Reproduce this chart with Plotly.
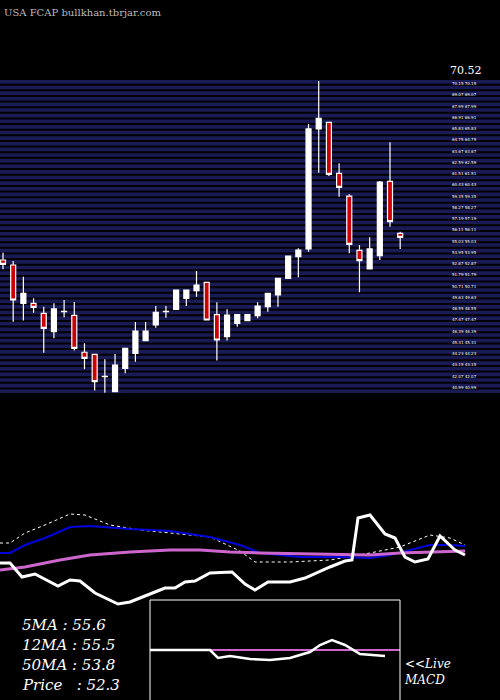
import numpy as np
import plotly.graph_objects as go

opens  = [53.22,52.74,49.06,49.06,48.10,46.34,48.26,47.91,44.36,44.16,42.02,40.58,42.82,44.26,45.48,46.98,48.26,48.48,49.54,50.28,
          51.08,47.98,45.86,47.14,47.40,47.88,48.74,49.86,51.46,53.54,54.28,65.80,66.44,61.54,59.36,54.15,52.36,53.64,60.77,55.78]
closes = [52.80,49.38,50.02,48.68,46.66,48.52,48.30,44.74,43.78,41.54,42.06,43.14,44.74,46.40,46.40,48.20,48.30,50.34,50.34,50.82,
          47.46,45.54,47.94,47.98,47.98,48.80,50.02,51.46,53.60,54.18,65.80,66.82,61.44,60.20,54.72,53.16,54.28,60.70,56.90,55.40]
highs  = [53.92,53.12,51.62,49.54,48.74,49.06,49.38,49.19,45.22,44.16,43.68,44.20,44.74,47.27,47.27,48.80,48.80,50.34,50.34,52.16,
          51.08,49.16,48.48,47.98,47.98,49.16,50.02,51.46,53.60,54.34,66.28,70.40,66.44,62.50,59.52,54.66,55.40,60.80,64.52,55.94]
lows   = [52.32,47.30,47.40,48.16,44.32,45.70,47.72,44.52,42.72,40.68,40.48,40.58,42.34,43.46,45.48,46.72,47.68,48.48,48.80,49.70,
          47.46,43.56,45.48,46.82,47.40,47.62,48.26,48.74,51.46,51.56,54.02,61.60,61.28,59.30,53.86,50.12,52.36,53.22,56.42,54.28]
idx = list(range(len(opens)))

# indicator panel readings (x in chart px, y in panel units, higher = lower on screen)
ma5_x = [0,10,25,45,70,85,110,140,170,210,240,255,290,330,370,400,430,450,465]
ma5_y = [543,543,533,525,514,515,525,530,533,537,551,562,562,560,553,547,535,538,545]
ma12_x = [0,10,25,45,70,90,130,170,210,240,260,300,340,370,390,410,430,450,465]
ma12_y = [553,553,545,538,527,526,529,531,537,545,553,557,557,558,555,550,545,545,546]
ma50_x = [0,25,60,90,130,170,200,230,260,300,340,370,400,430,465]
ma50_y = [570,567,560,555,552,550,550,552,553,554,555,555,553,552,551]
px_x = [0,10,22,35,58,70,80,95,118,130,150,165,175,185,195,210,232,245,255,268,290,305,330,345,352,358,370,385,395,405,415,428,440,455,465]
px_y = [563,563,577,574,586,580,581,593,604,602,594,588,588,582,581,573,572,584,590,582,582,578,567,561,560,518,515,534,538,557,562,559,536,550,555]
macd_x = [150,210,218,230,250,270,290,310,320,332,345,360,385]
macd_y = [650,650,658,656,659,660,658,652,645,640,645,654,656]
sig_x = [210,400]
sig_y = [650,650]

top_label = "70.52"
legend_lines = ["5MA : 55.6", "12MA : 55.5", "50MA : 53.8", "Price   : 52.3"]

fig = go.Figure()
up = [i for i in idx if closes[i] >= opens[i]]
dn = [i for i in idx if closes[i] < opens[i]]
for sel, fill in [(up, "white"), (dn, "#cc0000")]:
    fig.add_trace(go.Candlestick(
        x=[idx[i] for i in sel], open=[opens[i] for i in sel], high=[highs[i] for i in sel],
        low=[lows[i] for i in sel], close=[closes[i] for i in sel],
        increasing=dict(line=dict(color="white", width=1.2), fillcolor=fill),
        decreasing=dict(line=dict(color="white", width=1.2), fillcolor=fill),
        whiskerwidth=0, showlegend=False, xaxis="x", yaxis="y"))

fig.add_trace(go.Scatter(x=ma5_x, y=ma5_y, mode="lines", line=dict(color="white", width=1, dash="dot"), xaxis="x2", yaxis="y2"))
fig.add_trace(go.Scatter(x=ma12_x, y=ma12_y, mode="lines", line=dict(color="#0000dd", width=2), xaxis="x2", yaxis="y2"))
fig.add_trace(go.Scatter(x=ma50_x, y=ma50_y, mode="lines", line=dict(color="#cc66cc", width=3), xaxis="x2", yaxis="y2"))
fig.add_trace(go.Scatter(x=px_x, y=px_y, mode="lines", line=dict(color="white", width=3), xaxis="x2", yaxis="y2"))
fig.add_trace(go.Scatter(x=sig_x, y=sig_y, mode="lines", line=dict(color="#cc66cc", width=2), xaxis="x2", yaxis="y2"))
fig.add_trace(go.Scatter(x=macd_x, y=macd_y, mode="lines", line=dict(color="white", width=2.5), xaxis="x2", yaxis="y2"))

ymin, ymax = 40.45, 70.5
shapes = []
band_levels = np.arange(ymin, ymax, 0.54)
for b in band_levels:
    shapes.append(dict(type="rect", xref="paper", yref="y", x0=0, x1=1, y0=b, y1=b + 0.34,
                       fillcolor="#1a1a55", line=dict(width=0), layer="below"))
shapes.append(dict(type="rect", xref="x2", yref="y2", x0=150, x1=400, y0=600, y1=702,
                   line=dict(color="white", width=1)))

anns = [dict(text="USA FCAP bullkhan.tbrjar.com", x=2, y=12, xref="x2", yref="y2", showarrow=False,
             xanchor="left", font=dict(family="DejaVu Serif", size=10, color="#bbbbbb")),
        dict(text=top_label, x=448, y=70, xref="x2", yref="y2", showarrow=False, xanchor="left",
             font=dict(family="DejaVu Serif", size=11, color="white"))]
for b in band_levels[1::2]:
    anns.append(dict(text=f"{b:.2f} {b:.2f}", x=450, y=b, xref="x2", yref="y", showarrow=False,
                     xanchor="left", font=dict(family="DejaVu Sans", size=4, color="white")))
for k, t in enumerate(legend_lines):
    anns.append(dict(text=t, x=20, y=625 + k * 20, xref="x2", yref="y2", showarrow=False, xanchor="left",
                     font=dict(family="DejaVu Serif", size=15, color="white", style="italic")))
anns.append(dict(text="<<Live<br>MACD", x=402, y=672, xref="x2", yref="y2", showarrow=False, xanchor="left",
                 align="left", font=dict(family="DejaVu Serif", size=12, color="white", style="italic")))

fig.update_layout(
    width=500, height=700, margin=dict(l=0, r=0, t=0, b=0),
    paper_bgcolor="black", plot_bgcolor="rgba(0,0,0,0)", showlegend=False,
    shapes=shapes, annotations=anns,
    xaxis=dict(range=[-0.295, 48.8], visible=False, rangeslider=dict(visible=False), domain=[0, 1], anchor="y"),
    yaxis=dict(range=[ymin, ymax], visible=False, domain=[307/700, 620/700], anchor="x"),
    xaxis2=dict(range=[0, 500], visible=False, domain=[0, 1], anchor="y2"),
    yaxis2=dict(range=[700, 0], visible=False, domain=[0, 1], anchor="x2"),
)
fig.write_html("out.html", config={"displayModeBar": False},
               post_script="document.body.style.margin='0';document.body.style.background='black';")
